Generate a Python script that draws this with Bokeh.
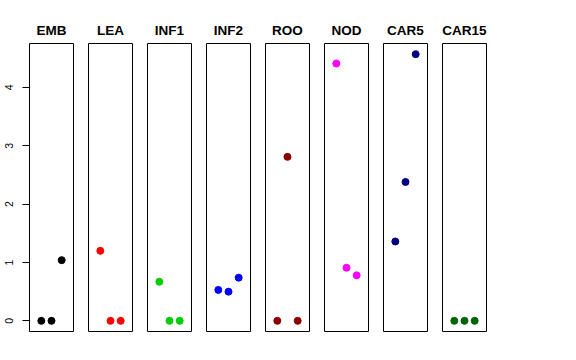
from bokeh.plotting import figure
from bokeh.layouts import row
from bokeh.models import Range1d, FixedTicker
from bokeh.embed import file_html
from bokeh.resources import INLINE

tissues = ["EMB", "LEA", "INF1", "INF2", "ROO", "NOD", "CAR5", "CAR15"]
colors = ["black", "red", "#00CD00", "blue", "#8B0000", "magenta", "#000080", "#006400"]
xs = [1, 2, 3]
emb = [0.0, 0.0, 1.04]
lea = [1.20, 0.0, 0.0]
inf1 = [0.67, 0.0, 0.0]
inf2 = [0.53, 0.50, 0.74]
roo = [0.0, 2.81, 0.0]
nod = [4.41, 0.91, 0.78]
car5 = [1.36, 2.38, 4.57]
car15 = [0.0, 0.0, 0.0]
series = [emb, lea, inf1, inf2, roo, nod, car5, car15]
yticks = [0, 1, 2, 3, 4]

ymax = 4.57
y_range = Range1d(-0.04 * ymax, ymax * 1.04)
figs = []
for i, (name, col, vals) in enumerate(zip(tissues, colors, series)):
    left = 29 if i == 0 else 7
    w = left + 44 + 8
    p = figure(width=w, height=341, output_backend="svg", toolbar_location=None,
               x_range=Range1d(-0.16, 4.16), y_range=y_range,
               min_border_left=left, min_border_right=8, min_border_top=43,
               min_border_bottom=10, title=name)
    p.title.align = "center"
    p.title.text_font = "Liberation Sans"
    p.title.text_font_size = "13.5px"
    p.title.text_font_style = "bold"
    p.title.text_color = "black"
    p.title.standoff = 12
    p.outline_line_color = "black"
    p.outline_line_width = 1
    p.outline_line_alpha = 1
    p.xgrid.visible = False
    p.ygrid.visible = False
    p.xaxis.visible = False
    if i == 0:
        ax = p.yaxis[0]
        ax.ticker = FixedTicker(ticks=yticks)
        ax.minor_tick_line_color = None
        ax.axis_line_color = None
        ax.major_tick_out = 7
        ax.major_tick_in = 0
        ax.major_tick_line_color = "black"
        ax.major_label_orientation = "vertical"
        ax.major_label_text_font = "Liberation Sans"
        ax.major_label_text_font_size = "10.5px"
        ax.major_label_text_color = "black"
        ax.major_label_standoff = 9
    else:
        p.yaxis.visible = False
    p.scatter(xs, vals, size=7, color=col)
    figs.append(p)

layout = row(*figs, spacing=0)
open("out.html", "w").write(file_html(layout, INLINE))
